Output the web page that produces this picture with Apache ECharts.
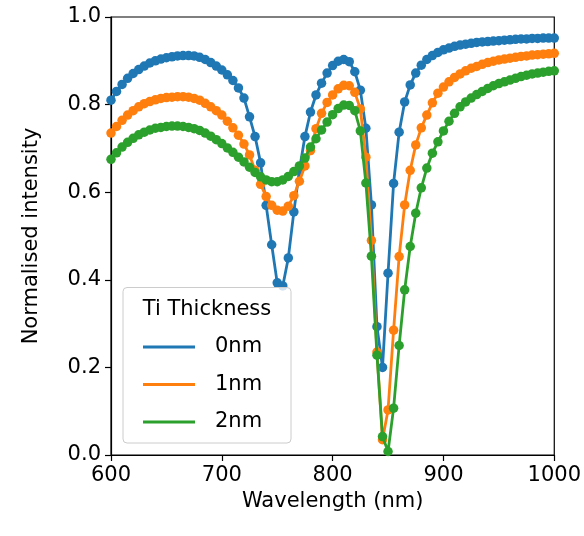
<!DOCTYPE html>
<html>
<head>
<meta charset="utf-8">
<script src="https://cdn.jsdelivr.net/npm/echarts@6/dist/echarts.min.js"></script>
<style>
  html, body { margin: 0; padding: 0; background: #fff; }
  #chart { width: 584px; height: 536px; }
</style>
</head>
<body>
<div id="chart"></div>
<script>
// Sampled wavelengths (nm)
const wavelength = [
  600, 605, 610, 615, 620, 625, 630, 635, 640, 645,
  650, 655, 660, 665, 670, 675, 680, 685, 690, 695,
  700, 705, 710, 715, 720, 725, 730, 735, 740, 745,
  750, 755, 760, 765, 770, 775, 780, 785, 790, 795,
  800, 805, 810, 815, 820, 825, 830, 835, 840, 845,
  850, 855, 860, 865, 870, 875, 880, 885, 890, 895,
  900, 905, 910, 915, 920, 925, 930, 935, 940, 945,
  950, 955, 960, 965, 970, 975, 980, 985, 990, 995,
  1000
];

// Normalised intensity, Ti thickness 0 nm
const ti0nm = [
  0.810, 0.830, 0.846, 0.860, 0.871, 0.880, 0.888, 0.895, 0.900, 0.904,
  0.907, 0.909, 0.911, 0.912, 0.912, 0.911, 0.908, 0.903, 0.896, 0.888,
  0.879, 0.868, 0.855, 0.838, 0.815, 0.772, 0.727, 0.667, 0.570, 0.480,
  0.393, 0.386, 0.450, 0.555, 0.650, 0.727, 0.783, 0.822, 0.849, 0.872,
  0.889, 0.899, 0.903, 0.898, 0.875, 0.833, 0.746, 0.571, 0.293, 0.200,
  0.415, 0.620, 0.737, 0.806, 0.845, 0.872, 0.890, 0.903, 0.912, 0.919,
  0.925, 0.929, 0.933, 0.936, 0.938, 0.940, 0.942, 0.943, 0.944, 0.945,
  0.946, 0.947, 0.948, 0.949, 0.950, 0.950, 0.951, 0.951, 0.952, 0.952,
  0.952
];

// Normalised intensity, Ti thickness 1 nm
const ti1nm = [
  0.735, 0.750, 0.764, 0.776, 0.786, 0.795, 0.802, 0.807, 0.811, 0.814,
  0.816, 0.817, 0.818, 0.818, 0.817, 0.814, 0.810, 0.803, 0.795, 0.786,
  0.776, 0.762, 0.747, 0.730, 0.710, 0.685, 0.650, 0.618, 0.590, 0.570,
  0.559, 0.557, 0.568, 0.592, 0.625, 0.660, 0.695, 0.745, 0.780, 0.805,
  0.822, 0.836, 0.844, 0.843, 0.828, 0.790, 0.680, 0.490, 0.235, 0.035,
  0.103, 0.285, 0.453, 0.571, 0.650, 0.708, 0.747, 0.776, 0.804, 0.826,
  0.840, 0.852, 0.862, 0.870, 0.877, 0.883, 0.887, 0.892, 0.896, 0.899,
  0.902, 0.904, 0.906, 0.908, 0.910, 0.911, 0.913, 0.914, 0.915, 0.916,
  0.917
];

// Normalised intensity, Ti thickness 2 nm
const ti2nm = [
  0.675, 0.690, 0.703, 0.714, 0.723, 0.731, 0.737, 0.742, 0.746, 0.748,
  0.750, 0.751, 0.751, 0.750, 0.748, 0.745, 0.741, 0.735, 0.728, 0.720,
  0.711, 0.701, 0.691, 0.680, 0.669, 0.657, 0.645, 0.635, 0.628, 0.624,
  0.624, 0.628, 0.636, 0.647, 0.660, 0.678, 0.703, 0.722, 0.742, 0.760,
  0.777, 0.791, 0.799, 0.798, 0.786, 0.740, 0.621, 0.454, 0.228, 0.042,
  0.008, 0.107, 0.250, 0.377, 0.476, 0.552, 0.610, 0.655, 0.689, 0.715,
  0.740, 0.762, 0.780, 0.795, 0.806, 0.815, 0.823, 0.830, 0.837, 0.843,
  0.848, 0.852, 0.856, 0.860, 0.864, 0.867, 0.870, 0.872, 0.874, 0.876,
  0.877
];

const seriesNames = ['0nm', '1nm', '2nm'];
const seriesColors = ['#1f77b4', '#ff7f0e', '#2ca02c'];
const seriesValues = [ti0nm, ti1nm, ti2nm];

const xTicks = { min: 600, max: 1000, step: 100 };
const yTicks = { min: 0, max: 1, step: 0.2 };

const FONT = 'DejaVu Sans';
const FS = 21;

const chart = echarts.init(document.getElementById('chart'), null, { renderer: 'canvas' });

const series = seriesNames.map((name, i) => ({
  name: name,
  type: 'line',
  data: wavelength.map((w, j) => [w, seriesValues[i][j]]),
  symbol: 'circle',
  symbolSize: 9.5,
  showSymbol: true,
  lineStyle: { color: seriesColors[i], width: 2.8 },
  itemStyle: { color: seriesColors[i], borderWidth: 0 },
  emphasis: { disabled: true },
  animation: false,
  z: 2 + i
}));

const option = {
  backgroundColor: '#fff',
  animation: false,
  textStyle: { fontFamily: FONT },
  grid: {
    left: 111, top: 17, width: 444, height: 438,
    show: true, borderColor: '#000', borderWidth: 1.2, backgroundColor: 'transparent'
  },
  xAxis: {
    type: 'value',
    min: xTicks.min, max: xTicks.max, interval: xTicks.step,
    name: 'Wavelength (nm)',
    nameLocation: 'middle',
    nameGap: 33,
    nameTextStyle: { fontFamily: FONT, fontSize: FS, color: '#000' },
    axisLine: { show: true, onZero: false, lineStyle: { color: '#000', width: 1.2 } },
    axisTick: { show: true, inside: false, length: 6, lineStyle: { color: '#000', width: 1.2 } },
    axisLabel: {
      fontFamily: FONT, fontSize: FS, color: '#000', margin: 10,
      formatter: v => String(v)
    },
    splitLine: { show: false }
  },
  yAxis: {
    type: 'value',
    min: yTicks.min, max: yTicks.max, interval: yTicks.step,
    name: 'Normalised intensity',
    nameLocation: 'middle',
    nameGap: 69,
    nameTextStyle: { fontFamily: FONT, fontSize: FS, color: '#000' },
    axisLine: { show: true, onZero: false, lineStyle: { color: '#000', width: 1.2 } },
    axisTick: { show: true, inside: false, length: 6, lineStyle: { color: '#000', width: 1.2 } },
    axisLabel: {
      fontFamily: FONT, fontSize: FS, color: '#000', margin: 10,
      formatter: v => v.toFixed(1)
    },
    splitLine: { show: false }
  },
  legend: {
    data: seriesNames,
    orient: 'vertical',
    left: 143,
    top: 336,
    icon: 'rect',
    itemWidth: 52,
    itemHeight: 3,
    itemGap: 15.5,
    padding: 0,
    selectedMode: false,
    z: 20,
    textStyle: {
      fontFamily: FONT, fontSize: FS, color: '#000',
      lineHeight: 22, padding: [0, 0, 0, 15]
    }
  },
  graphic: [
    {
      type: 'rect',
      z: 15,
      shape: { x: 123, y: 287.5, width: 168, height: 155.5, r: 4 },
      style: { fill: 'rgba(255,255,255,0.8)', stroke: '#cccccc', lineWidth: 1 }
    },
    {
      type: 'text',
      z: 16,
      style: {
        x: 207, y: 310,
        text: 'Ti Thickness',
        font: FS + 'px "' + FONT + '"',
        fill: '#000',
        textAlign: 'center',
        textVerticalAlign: 'middle'
      }
    }
  ],
  series: series
};

chart.setOption(option);
</script>
</body>
</html>
